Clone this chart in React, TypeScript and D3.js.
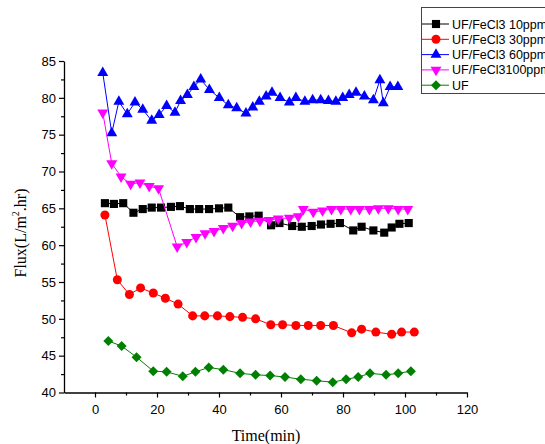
import React, { useRef, useEffect } from 'react';
import * as d3 from 'd3';

// time (min) and flux (L/m2.hr)
const t10 = [3.2, 6.1, 9.1, 12.4, 15.4, 18.3, 21.3, 24.5, 27.4, 30.6, 33.6, 36.8, 40.0, 43.0, 46.8, 49.8, 52.8, 56.8, 59.5, 63.6, 66.7, 69.9, 72.9, 76.0, 79.0, 83.3, 86.0, 89.8, 93.3, 95.7, 98.2, 101.2];
const flux10 = [65.7, 65.6, 65.7, 64.4, 64.9, 65.1, 65.1, 65.2, 65.3, 64.9, 64.9, 64.9, 65.0, 65.1, 63.8, 63.9, 64.0, 62.7, 63.0, 62.6, 62.5, 62.6, 62.8, 62.9, 63.0, 62.0, 62.5, 62.0, 61.7, 62.4, 62.9, 63.0];

const t30 = [3.2, 7.2, 11.1, 14.7, 18.8, 22.7, 26.8, 31.5, 35.4, 39.5, 43.5, 47.6, 51.8, 56.7, 60.5, 64.8, 68.8, 72.8, 76.9, 82.8, 86.0, 90.6, 95.7, 98.9, 103.0];
const flux30 = [64.1, 55.3, 53.3, 54.2, 53.5, 52.8, 52.0, 50.4, 50.4, 50.4, 50.3, 50.2, 50.0, 49.2, 49.2, 49.1, 49.1, 49.1, 49.1, 48.1, 48.6, 48.2, 47.9, 48.2, 48.2];

const t60 = [2.5, 5.4, 7.7, 10.4, 12.9, 15.4, 18.3, 20.7, 23.1, 25.8, 27.6, 29.8, 31.9, 34.1, 36.9, 40.1, 43.0, 45.7, 48.7, 50.9, 53.0, 55.2, 57.1, 59.7, 62.7, 64.8, 67.7, 70.2, 72.8, 75.3, 77.7, 79.9, 82.0, 84.2, 86.9, 89.8, 91.9, 93.0, 95.2, 97.7];
const flux60 = [83.4, 75.2, 79.5, 77.8, 79.4, 78.4, 76.9, 77.7, 78.9, 78.0, 79.6, 80.4, 81.5, 82.5, 81.1, 80.0, 79.0, 78.6, 77.9, 78.7, 79.5, 80.2, 80.7, 80.0, 79.4, 80.0, 79.5, 79.7, 79.7, 79.6, 79.5, 80.0, 80.4, 80.7, 80.2, 79.7, 82.4, 79.3, 81.5, 81.5];

const t100 = [2.5, 5.4, 8.4, 11.5, 14.5, 17.5, 20.5, 26.5, 29.6, 32.6, 35.5, 38.4, 41.4, 44.4, 47.3, 50.2, 53.2, 56.2, 59.1, 62.7, 65.6, 67.2, 70.4, 73.4, 76.3, 79.3, 82.5, 85.3, 88.5, 91.4, 94.6, 97.8, 100.9];
const flux100 = [78.0, 71.1, 69.3, 68.3, 68.5, 68.0, 67.7, 59.8, 60.4, 61.1, 61.6, 61.9, 62.3, 62.6, 63.0, 63.2, 63.3, 63.4, 63.6, 63.7, 63.9, 64.9, 64.5, 64.7, 64.9, 64.9, 64.9, 64.9, 64.9, 65.0, 65.0, 64.9, 64.9];

const tUF = [4.3, 8.6, 13.4, 18.8, 23.1, 28.3, 32.4, 36.7, 41.4, 46.8, 51.8, 56.5, 61.3, 66.4, 71.5, 76.7, 81.0, 84.9, 88.7, 93.9, 97.8, 101.9];
const fluxUF = [47.0, 46.3, 44.8, 42.9, 42.8, 42.2, 42.8, 43.4, 43.1, 42.6, 42.4, 42.3, 42.1, 41.8, 41.6, 41.4, 41.8, 42.1, 42.6, 42.4, 42.6, 42.9];

const seriesNames = ['UF/FeCl3 10ppm', 'UF/FeCl3 30ppm', 'UF/FeCl3 60ppm', 'UF/FeCl3100ppm', 'UF'];
const seriesColors = ['#000000', '#ff0000', '#0000ff', '#ff00ff', '#008000'];
const xTicks = [0, 20, 40, 60, 80, 100, 120];
const yTicks = [40, 45, 50, 55, 60, 65, 70, 75, 80, 85];

const W = 545, H = 444;

// marker path per series, centred on 0,0
const markers = [
  d3.symbol(d3.symbolSquare, 66)(),
  d3.symbol(d3.symbolCircle, 64)(),
  d3.symbol(d3.symbolTriangle, 52)(),
  d3.symbol(d3.symbolTriangle, 52)(),
  d3.symbol(d3.symbolSquare, 50)(),
];
const markerRot = [0, 0, 0, 180, 45];

function App() {
  const svgRef = useRef(null);

  useEffect(() => {
    const svg = d3.select(svgRef.current);
    svg.selectAll('*').remove();

    const x = d3.scaleLinear().domain([-10, 120]).range([64, 467]);
    const y = d3.scaleLinear().domain([40, 85]).range([392.5, 61]);

    const series = [
      t10.map((t, i) => [t, flux10[i]]),
      t30.map((t, i) => [t, flux30[i]]),
      t60.map((t, i) => [t, flux60[i]]),
      t100.map((t, i) => [t, flux100[i]]),
      tUF.map((t, i) => [t, fluxUF[i]]),
    ];

    // axes
    const xAxis = d3.axisBottom(x).tickValues(xTicks).tickSize(5).tickSizeOuter(0);
    const gx = svg.append('g').attr('transform', `translate(0,${y(40)})`).call(xAxis);
    gx.selectAll('.tick')
      .filter(d => false)
      .remove();
    svg.append('g').attr('transform', `translate(0,${y(40)})`)
      .call(d3.axisBottom(x).tickValues([10, 30, 50, 70, 90, 110]).tickSize(3).tickSizeOuter(0).tickFormat(() => ''))
      .select('.domain').remove();

    const yAxis = d3.axisLeft(y).tickValues(yTicks).tickSize(5).tickSizeOuter(0);
    const gy = svg.append('g').attr('transform', `translate(${x(-10)},0)`).call(yAxis);
    svg.append('g').attr('transform', `translate(${x(-10)},0)`)
      .call(d3.axisLeft(y).tickValues(yTicks.slice(0, -1).map(v => v + 2.5)).tickSize(3).tickSizeOuter(0).tickFormat(() => ''))
      .select('.domain').remove();

    [gx, gy].forEach(g => {
      g.selectAll('text').attr('font-family', 'Liberation Sans, Arial, sans-serif').attr('font-size', 13).attr('fill', '#000');
      g.select('.domain').attr('stroke-width', 1.3);
    });
    gx.selectAll('text').attr('dy', '1.05em');
    svg.selectAll('.tick line').attr('stroke-width', 1.2);

    // axis titles
    svg.append('text')
      .attr('x', 266).attr('y', 441)
      .attr('text-anchor', 'middle')
      .attr('font-family', 'Liberation Serif, Times New Roman, serif')
      .attr('font-size', 16)
      .text('Time(min)');

    const yl = svg.append('text')
      .attr('transform', 'translate(26,233) rotate(-90)')
      .attr('text-anchor', 'middle')
      .attr('font-family', 'Liberation Serif, Times New Roman, serif')
      .attr('font-size', 16);
    yl.append('tspan').text('Flux(L/m');
    yl.append('tspan').attr('font-size', 10).attr('dy', -7).text('2');
    yl.append('tspan').attr('dy', 7).text('.hr)');

    // series
    const line = d3.line().x(d => x(d[0])).y(d => y(d[1]));
    series.forEach((pts, i) => {
      const g = svg.append('g');
      g.append('path')
        .attr('d', line(pts))
        .attr('fill', 'none')
        .attr('stroke', seriesColors[i])
        .attr('stroke-width', 1);
      g.selectAll('path.m')
        .data(pts)
        .join('path')
        .attr('class', 'm')
        .attr('d', markers[i])
        .attr('transform', d => `translate(${x(d[0])},${y(d[1])}) rotate(${markerRot[i]})`)
        .attr('fill', seriesColors[i]);
    });

    // legend
    const lg = svg.append('g');
    lg.append('rect')
      .attr('x', 421.5).attr('y', 7.5)
      .attr('width', 140).attr('height', 86)
      .attr('fill', '#fff')
      .attr('stroke', '#444')
      .attr('stroke-width', 1);
    seriesNames.forEach((name, i) => {
      const ly = 24 + i * 15.3;
      lg.append('line')
        .attr('x1', 422).attr('x2', 449)
        .attr('y1', ly).attr('y2', ly)
        .attr('stroke', seriesColors[i]).attr('stroke-width', 1);
      lg.append('path')
        .attr('d', markers[i])
        .attr('transform', `translate(436,${ly}) rotate(${markerRot[i]})`)
        .attr('fill', seriesColors[i]);
      lg.append('text')
        .attr('x', 452).attr('y', ly)
        .attr('dy', '0.36em')
        .attr('font-family', 'Liberation Sans, Arial, sans-serif')
        .attr('font-size', 12.5)
        .text(name);
    });
  }, []);

  return (
    <svg ref={svgRef} width={W} height={H}
      style={{ position: 'absolute', left: 0, top: 0, background: '#fff' }} />
  );
}

export default App;
